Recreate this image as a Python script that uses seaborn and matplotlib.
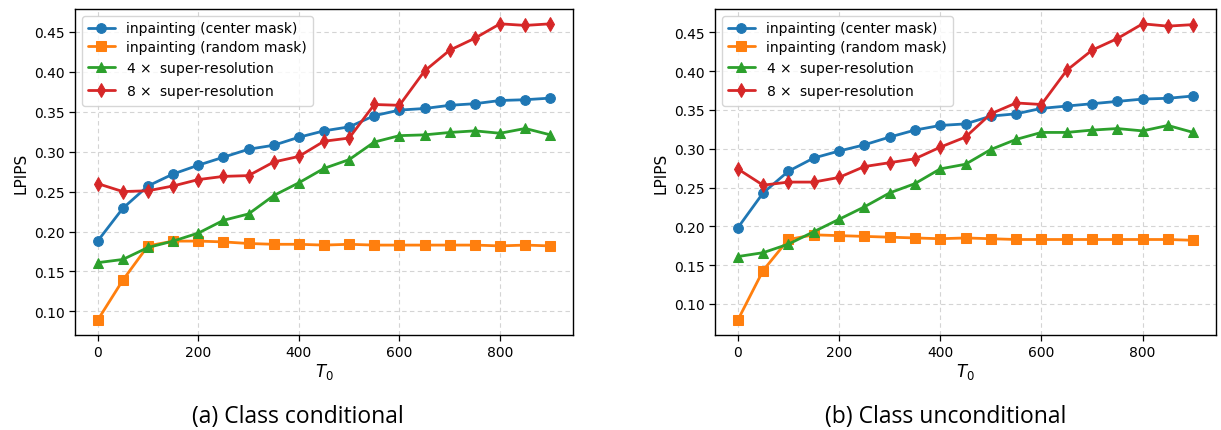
import numpy as np
import pandas as pd
import matplotlib
matplotlib.use("Agg")
import matplotlib.pyplot as plt
import seaborn as sns

t0 = [0, 50, 100, 150, 200, 250, 300, 350, 400, 450, 500, 550, 600, 650, 700, 750, 800, 850, 900]

series_names = ["inpainting (center mask)", "inpainting (random mask)",
                r"4 $\times$  super-resolution", r"8 $\times$  super-resolution"]

# (a) Class conditional
cond_center = [0.188, 0.229, 0.257, 0.272, 0.283, 0.293, 0.303, 0.308, 0.318, 0.326, 0.331,
               0.345, 0.352, 0.354, 0.358, 0.360, 0.364, 0.365, 0.367]
cond_random = [0.089, 0.139, 0.182, 0.188, 0.188, 0.187, 0.185, 0.184, 0.184, 0.183, 0.184,
               0.183, 0.183, 0.183, 0.183, 0.183, 0.182, 0.183, 0.182]
cond_sr4 = [0.161, 0.165, 0.180, 0.188, 0.198, 0.214, 0.222, 0.245, 0.261, 0.279, 0.290,
            0.312, 0.320, 0.321, 0.324, 0.326, 0.323, 0.329, 0.321]
cond_sr8 = [0.260, 0.250, 0.251, 0.257, 0.265, 0.269, 0.270, 0.287, 0.294, 0.313, 0.317,
            0.359, 0.358, 0.401, 0.427, 0.442, 0.460, 0.458, 0.460]

# (b) Class unconditional
unc_center = [0.198, 0.243, 0.271, 0.288, 0.297, 0.305, 0.315, 0.324, 0.330, 0.332, 0.342,
              0.345, 0.352, 0.355, 0.358, 0.361, 0.364, 0.365, 0.368]
unc_random = [0.079, 0.143, 0.183, 0.189, 0.188, 0.187, 0.186, 0.185, 0.184, 0.185, 0.184,
              0.183, 0.183, 0.183, 0.183, 0.183, 0.183, 0.183, 0.182]
unc_sr4 = [0.161, 0.166, 0.177, 0.193, 0.209, 0.225, 0.243, 0.255, 0.274, 0.280, 0.299,
           0.312, 0.321, 0.321, 0.324, 0.326, 0.323, 0.330, 0.321]
unc_sr8 = [0.274, 0.253, 0.257, 0.257, 0.263, 0.277, 0.282, 0.287, 0.302, 0.315, 0.345,
           0.359, 0.357, 0.401, 0.427, 0.442, 0.461, 0.458, 0.460]

captions = ["(a) Class conditional", "(b) Class unconditional"]

sns.set_style("ticks")
plt.rcParams['font.family'] = ['DejaVu Sans']
plt.rcParams['text.color'] = 'black'
plt.rcParams['axes.labelcolor'] = 'black'
plt.rcParams['xtick.color'] = 'black'
plt.rcParams['ytick.color'] = 'black'

colors = ["#1f77b4", "#ff7f0e", "#2ca02c", "#d62728"]
markers = ["o", "s", "^", "d"]

fig = plt.figure(figsize=(12.21, 4.31), dpi=100)
ax1 = fig.add_axes([75/1221, 95/431, 498/1221, 326/431])
ax2 = fig.add_axes([715/1221, 95/431, 501/1221, 326/431])

panels = [(ax1, [cond_center, cond_random, cond_sr4, cond_sr8]),
          (ax2, [unc_center, unc_random, unc_sr4, unc_sr8])]

for ax, vals in panels:
    for name, v, c, m in zip(series_names, vals, colors, markers):
        df = pd.DataFrame({"T0": t0, "LPIPS": v})
        sns.lineplot(data=df, x="T0", y="LPIPS", ax=ax, color=c, marker=m,
                     markersize=7, markeredgecolor=c,
                     linewidth=2, label=name)
    ax.grid(True, linestyle=(0, (4, 3)), color="#d4d4d4", linewidth=0.8)
    ax.set_xticks([0, 200, 400, 600, 800])
    ax.set_yticks([0.10, 0.15, 0.20, 0.25, 0.30, 0.35, 0.40, 0.45])
    ax.set_yticklabels([f"{t:.2f}" for t in [0.10, 0.15, 0.20, 0.25, 0.30, 0.35, 0.40, 0.45]])
    ax.tick_params(labelsize=10, length=4, width=0.9, color="black", labelcolor="black")
    ax.set_xlabel("$T_0$", fontsize=12, labelpad=1, color="black")
    ax.set_ylabel("LPIPS", fontsize=11, color="black")
    for s in ax.spines.values():
        s.set_color("black")
        s.set_linewidth(1.0)
    leg = ax.legend(loc="upper left", fontsize=10, frameon=True, handlelength=2.0,
                    borderaxespad=0.5, labelspacing=0.35)
    for t in leg.get_texts():
        t.set_color("black")

fig.text(298/1221, 1 - 417/431, captions[0], ha="center", va="center", fontsize=16.5,
         family=["Open Sans"], color="black")
fig.text(946/1221, 1 - 417/431, captions[1], ha="center", va="center", fontsize=16.5,
         family=["Open Sans"], color="black")

fig.savefig("out.png", dpi=100)
